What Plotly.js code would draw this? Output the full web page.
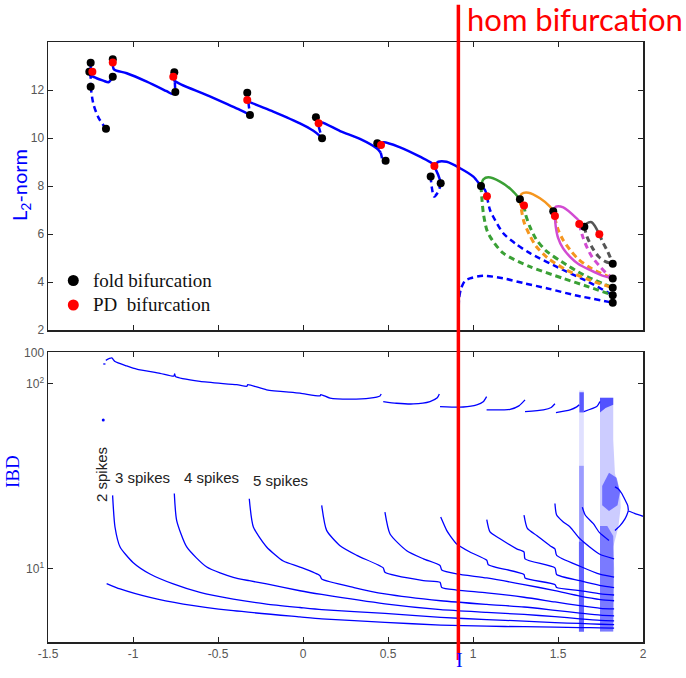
<!DOCTYPE html>
<html><head><meta charset="utf-8">
<script src="https://cdn.plot.ly/plotly-3.0.1.min.js"></script>
<style>html,body{margin:0;padding:0;background:#fff}</style>
</head><body><div id="chart" style="width:686px;height:678px"></div>
<script>
// ---------- DATA ----------
const homI = 0.914;
const xTickVals = [-1.5,-1,-0.5,0,0.5,1,1.5,2];
const xTickText = ['-1.5','-1','-0.5','0','0.5','1','1.5','2'];
const l2TickVals = [2,4,6,8,10,12];
const ibdTickVals = [10,100,147];
const ibdTickText = ['10<sup>1</sup>','10<sup>2</sup>','100'];
const ibdMinorTicks = [5,6,7,8,9,20,30,40,50,60,70,80,90,100];

// top panel: blue solid branches
const s1I=[-1.257,-1.214,-1.175,-1.145,-1.131,-1.119], s1L=[12.63,12.49,12.39,12.32,12.42,12.55];
const s2I=[-1.119,-1.112,-1.037,-0.919,-0.802,-0.767,-0.755], s2L=[13.15,12.86,12.70,12.35,11.95,11.83,11.92];
const s3I=[-0.763,-0.757,-0.566,-0.371,-0.322,-0.312], s3L=[12.55,12.39,11.79,11.17,11.0,10.96];
const s4I=[-0.328,-0.316,-0.175,-0.018,0.061,0.100,0.112], s4L=[11.58,11.51,11.10,10.61,10.30,10.08,9.99];
const s5I=[0.092,0.110,0.218,0.335,0.433,0.457], s5L=[10.61,10.65,10.29,9.96,9.57,9.39];
const s6I=[0.459,0.473,0.571,0.688,0.757,0.782,0.806,0.810], s6L=[9.71,9.82,9.61,9.22,8.95,8.67,8.25,8.11];
const s7I=[0.773,0.796,0.845,0.924,1.002,1.047,1.071,1.082], s7L=[8.83,9.01,9.01,8.74,8.39,8.0,7.83,7.57];
// top panel: blue dashed pieces
const d1I=[-1.249,-1.234,-1.204,-1.159], d1L=[12.14,11.45,10.86,10.39];
const v1I=[-1.249,-1.249], v1L=[13.14,12.14];
const v2I=[-0.757,-0.751], v2L=[12.74,11.92];
const v3I=[-0.328,-0.312], v3L=[11.89,10.96];
const v4I=[0.076,0.112], v4L=[10.86,9.99];
const d2I=[0.437,0.447,0.457,0.463,0.469,0.478,0.486], d2L=[9.78,9.55,9.39,9.22,8.99,8.98,9.05];
const d3I=[0.751,0.757,0.771,0.790,0.806,0.810], d3L=[8.40,7.97,7.56,7.70,7.97,8.11];
const b1I=[1.082,1.10,1.119,1.178,1.25,1.335,1.531,1.68,1.822], b1L=[7.57,7.0,6.72,6.03,5.6,5.2,4.5,4.0,3.45];
const b2I=[0.916,0.918,0.929,0.953,0.982,1.061,1.178,1.30,1.433,1.60,1.822], b2L=[2.97,3.3,3.72,4.05,4.15,4.26,4.15,3.95,3.74,3.45,3.14];
// green
const gSI=[1.047,1.061,1.09,1.159,1.228,1.276], gSL=[8.0,8.28,8.36,8.18,7.83,7.45];
const g1I=[1.047,1.052,1.061,1.08,1.10,1.178,1.335,1.531,1.68,1.822], g1L=[8.0,7.5,6.86,6.2,5.89,5.2,4.64,4.15,3.8,3.45];
const g2I=[1.30,1.31,1.335,1.37,1.43,1.52,1.65,1.822], g2L=[7.19,6.8,6.3,5.8,5.3,4.85,4.3,3.76];
// orange
const oSI=[1.276,1.286,1.325,1.394,1.453,1.472], oSL=[7.45,7.67,7.72,7.49,7.14,6.95];
const o1I=[1.276,1.285,1.30,1.33,1.37,1.44,1.55,1.68,1.822], o1L=[7.45,7.0,6.5,6.0,5.5,5.0,4.5,4.1,3.76];
const o2I=[1.48,1.50,1.53,1.57,1.62,1.70,1.822], o2L=[6.7,6.2,5.75,5.35,4.95,4.55,4.15];
// magenta
const mSI=[1.472,1.488,1.531,1.61,1.655], mSL=[6.95,7.14,7.11,6.65,6.30];
const m2I=[1.482,1.487,1.50,1.53,1.571,1.62,1.688,1.75,1.822], m2L=[6.75,6.3,5.85,5.4,5.05,4.75,4.5,4.3,4.15];
const mDI=[1.625,1.645,1.67,1.70,1.74,1.78,1.822], mDL=[6.42,5.9,5.45,5.05,4.7,4.4,4.15];
// dark grey
const kSI=[1.655,1.669,1.698,1.743], kSL=[6.30,6.44,6.49,5.99];
const k1I=[1.655,1.67,1.70,1.74,1.78,1.822], k1L=[6.30,5.9,5.45,5.05,4.85,4.76];
const k2I=[1.743,1.767,1.79,1.806,1.822], k2L=[5.99,5.61,5.3,5.05,4.76];
// bifurcation points
const foldI=[-1.257,-1.249,-1.249,-1.159,-1.119,-1.119,-0.757,-0.751,-0.328,-0.312,0.076,0.112,0.437,0.486,0.751,0.810,1.047,1.276,1.472,1.655,1.822,1.822,1.822,1.822,1.822];
const foldL=[12.76,13.14,12.14,10.39,13.28,12.55,12.74,11.92,11.89,10.96,10.86,9.99,9.78,9.05,8.40,8.11,8.0,7.45,6.95,6.30,4.76,4.15,3.76,3.45,3.14];
const pdI=[-1.239,-1.119,-0.763,-0.328,0.092,0.459,0.773,1.082,1.30,1.482,1.625,1.743];
const pdL=[12.76,13.15,12.55,11.58,10.61,9.71,8.83,7.57,7.19,6.75,6.42,5.99];

// bottom panel: IBD branches
const L1I=[-1.155,-1.076,-0.9,-0.704,-0.41,-0.018,0.11,0.482,0.81,1.081,1.30,1.482,1.629,1.75,1.83];
const L1V=[8.3,7.76,6.98,6.43,5.92,5.48,5.35,5.12,4.95,4.88,4.85,4.83,4.8,4.78,4.76];
const L2I=[-1.12,-1.106,-1.076,-1.0,-0.9,-0.763,-0.606,-0.41,-0.214,-0.018,0.11,0.482,0.81,1.081,1.30,1.482,1.629,1.75,1.83];
const L2V=[24.9,16.8,13.1,10.8,9.35,8.26,7.43,6.84,6.43,6.16,6.0,5.72,5.45,5.3,5.2,5.1,5.05,5.0,4.98];
const L3I=[-0.757,-0.743,-0.684,-0.566,-0.41,-0.316,-0.214,-0.018,0.11,0.482,0.81,1.081,1.30,1.482,1.629,1.75,1.83];
const L3V=[25.5,18.2,13.1,10.2,8.97,8.6,8.26,7.59,7.25,6.45,6.0,5.8,5.65,5.5,5.35,5.25,5.22];
const L4I=[-0.316,-0.292,-0.214,-0.116,-0.018,0.1,0.11,0.3,0.482,0.81,1.081,1.30,1.482,1.629,1.75,1.83];
const L4V=[23.9,16.8,13.1,11.0,10.2,9.16,8.79,7.9,7.3,6.7,6.4,6.2,5.95,5.75,5.6,5.55];
const L5I=[0.11,0.139,0.218,0.316,0.472,0.482,0.708,0.806,0.816,0.904,1.081,1.30,1.482,1.629,1.75,1.83];
const L5V=[22.0,16.1,13.3,11.8,10.1,9.55,8.61,8.43,7.91,7.66,7.4,7.0,6.6,6.3,6.1,6.05];
const L6I=[0.482,0.512,0.610,0.708,0.806,0.816,0.904,1.081,1.30,1.482,1.629,1.75,1.83];
const L6V=[20.2,15.4,12.5,11.3,10.4,9.84,9.36,8.9,8.2,7.6,7.1,6.8,6.7];
const L7I=[0.81,0.845,0.865,0.904,0.982,1.081,1.09,1.30,1.306,1.482,1.492,1.629,1.75,1.83];
const L7V=[19.0,16.1,15.1,13.6,12.3,11.1,10.5,9.3,8.9,8.2,7.9,7.6,7.3,7.2];
const L8I=[1.081,1.1,1.159,1.257,1.30,1.306,1.482,1.492,1.629,1.75,1.83];
const L8V=[18.4,15.8,14.5,12.8,12.3,11.3,10.1,9.3,8.6,8.1,7.9];
const L9I=[1.30,1.32,1.375,1.453,1.482,1.492,1.629,1.75,1.83];
const L9V=[19.5,16.5,15.1,13.3,12.8,11.8,10.3,9.3,9.0];
const L10I=[1.482,1.492,1.531,1.571,1.629,1.743,1.83];
const L10V=[22.5,19.5,17.9,16.8,14.5,12.0,11.3];
const L11I=[1.643,1.66,1.708,1.743,1.80];
const L11V=[21.5,19.5,17.5,15.7,14.2];
// long inter-burst branch (top)
const T1I=[-1.175,-1.162], T1V=[128,128];
const T2I=[-1.16,-1.125,-1.106,-1.037,-0.978,-0.841,-0.76,-0.755,-0.75,-0.606,-0.39,-0.33,-0.325,-0.214,-0.018,0.1,0.105,0.159,0.276,0.394,0.453,0.46];
const T2V=[134,138,132,125,120,114,110,113,109.5,103,98.9,97,99,92.7,89,86,87.5,83.6,82.6,83.6,86,88];
const T3I=[0.472,0.55,0.649,0.747,0.79,0.802], T3V=[80.2,78.5,77.8,80.2,84,88];
const T4I=[0.806,0.943,1.022,1.06,1.08], T4V=[75.3,74.9,76.9,80,85.3];
const T5I=[1.08,1.218,1.27,1.306], T5V=[72.3,72.8,76,81.9];
const T6I=[1.306,1.414,1.46,1.482], T6V=[70.8,72.3,74.5,78];
const T7I=[1.488,1.571,1.61,1.625], T7V=[69.9,72.3,75,77];
const T8I=[1.652,1.728,1.747], T8V=[70.8,75.3,80.2];
const strayI=[-1.175], strayV=[63.7];
// chaotic regions (outlines)
const c1aI=[1.624,1.652,1.652,1.624], c1aV=[4.6,4.6,92,92];
const c1bI=[1.626,1.652,1.652,1.626], c1bV=[70,70,90,90];
const c1cI=[1.623,1.653,1.653,1.623], c1cV=[4.55,4.55,14,14];
const c1dI=[1.624,1.652,1.652,1.624], c1dV=[14,14,36,36];
const c2aI=[1.747,1.825,1.825,1.855,1.869,1.865,1.835,1.825,1.825,1.747], c2aV=[4.6,4.6,13.1,16.8,21.5,25.5,32.7,49.6,84,84];
const c2bI=[1.747,1.825,1.825,1.78,1.747], c2bV=[84,84,77,74,70];
const c2cI=[1.76,1.80,1.85,1.865,1.845,1.80,1.76], c2cV=[22,20.5,22,26,31,33,28];
const c2dI=[1.747,1.825,1.83,1.825,1.79,1.747], c2dV=[4.55,4.55,10,15,17,17];
const bubUI=[1.835,1.855,1.875,1.895,1.91,1.914], bubUV=[27.7,27,25.5,23.5,22,20.6];
const bubLI=[1.914,1.905,1.894,1.865,1.835], bubLV=[20.6,19.5,18.6,17.1,16.1];
const tailI=[1.914,1.95,2.0], tailV=[20.5,19.9,19.2];

// ---------- TRACES ----------
const BLUE='#0000ff', GREEN='#3aa035', ORANGE='#f5961e', MAG='#d24bd2', GREY='#555555';
const DASH='6px,4px';
const traces=[];
function addTop(x,y,color,dash,w){traces.push({x:x,y:y,xaxis:'x',yaxis:'y',mode:'lines',line:{color:color,width:w||2.5,dash:dash?DASH:'solid',shape:'spline',smoothing:0.8},hoverinfo:'skip'});}
[[s1I,s1L],[s2I,s2L],[s3I,s3L],[s4I,s4L],[s5I,s5L],[s6I,s6L],[s7I,s7L]].forEach(a=>addTop(a[0],a[1],BLUE,false));
[[d1I,d1L],[v1I,v1L],[v2I,v2L],[v3I,v3L],[v4I,v4L],[d2I,d2L],[d3I,d3L],[b1I,b1L],[b2I,b2L]].forEach(a=>addTop(a[0],a[1],BLUE,true));
addTop(g1I,g1L,GREEN,true,3); addTop(g2I,g2L,GREEN,true,3);
addTop(o1I,o1L,ORANGE,true,3); addTop(o2I,o2L,ORANGE,true,3);
addTop(mDI,mDL,MAG,true,3);
addTop(k1I,k1L,GREY,true,3); addTop(k2I,k2L,GREY,true,3);
addTop(gSI,gSL,GREEN,false); addTop(oSI,oSL,ORANGE,false); addTop(mSI,mSL,MAG,false); addTop(m2I,m2L,MAG,false); addTop(kSI,kSL,GREY,false);
traces.push({x:foldI,y:foldL,xaxis:'x',yaxis:'y',mode:'markers',marker:{color:'#000',size:8},hoverinfo:'skip'});
traces.push({x:pdI,y:pdL,xaxis:'x',yaxis:'y',mode:'markers',marker:{color:'#ff0000',size:8},hoverinfo:'skip'});

function addPoly(x,y,op){traces.push({x:x,y:y,xaxis:'x2',yaxis:'y2',mode:'lines',fill:'toself',fillcolor:'rgba(0,0,255,'+op+')',line:{width:0,color:'rgba(0,0,255,0)'},hoverinfo:'skip'});}
addPoly(c1aI,c1aV,0.12); addPoly(c1dI,c1dV,0.3); addPoly(c1bI,c1bV,0.6); addPoly(c1cI,c1cV,0.55);
addPoly(c2aI,c2aV,0.2); addPoly(c2bI,c2bV,0.6); addPoly(c2cI,c2cV,0.45); addPoly(c2dI,c2dV,0.4);
function addBot(x,y){traces.push({x:x,y:y,xaxis:'x2',yaxis:'y2',mode:'lines',line:{color:BLUE,width:1.3,shape:'spline',smoothing:0.6},hoverinfo:'skip'});}
[[L1I,L1V],[L2I,L2V],[L3I,L3V],[L4I,L4V],[L5I,L5V],[L6I,L6V],[L7I,L7V],[L8I,L8V],[L9I,L9V],[L10I,L10V],[L11I,L11V],
 [T1I,T1V],[T2I,T2V],[T3I,T3V],[T4I,T4V],[T5I,T5V],[T6I,T6V],[T7I,T7V],[T8I,T8V],[bubUI,bubUV],[bubLI,bubLV],[tailI,tailV]].forEach(a=>addBot(a[0],a[1]));
traces.push({x:strayI,y:strayV,xaxis:'x2',yaxis:'y2',mode:'markers',marker:{color:BLUE,size:3},hoverinfo:'skip'});

// ---------- LAYOUT ----------
const tickFont={family:'Liberation Sans, Arial, sans-serif',size:12,color:'#555'};
const axBase={showgrid:false,zeroline:false,showline:true,linecolor:'#222',linewidth:1.5,ticks:'inside',ticklen:5,tickcolor:'#222',mirror:'ticks',tickfont:tickFont};
const layout={
  width:686,height:678,margin:{l:48,r:43,t:42,b:36},paper_bgcolor:'#fff',plot_bgcolor:'#fff',showlegend:false,
  xaxis:Object.assign({},axBase,{domain:[0,1],range:[-1.5,2],anchor:'y',tickvals:xTickVals,showticklabels:false}),
  yaxis:Object.assign({},axBase,{domain:[0.52,1],range:[2,14],anchor:'x',tickvals:l2TickVals}),
  xaxis2:Object.assign({},axBase,{domain:[0,1],range:[-1.5,2],anchor:'y2',tickvals:xTickVals,ticktext:xTickText}),
  yaxis2:Object.assign({},axBase,{domain:[0,0.4833],type:'log',range:[0.603,2.172],anchor:'x2',tickvals:ibdTickVals,ticktext:ibdTickText}),
  yaxis3:{overlaying:'y2',side:'right',anchor:'x2',type:'log',range:[0.603,2.172],tickvals:ibdMinorTicks,ticks:'inside',ticklen:5,tickcolor:'#222',showticklabels:false,showline:false,showgrid:false,zeroline:false},
  shapes:[
    {type:'line',xref:'x',yref:'paper',x0:homI,x1:homI,y0:-0.03,y1:1.062,line:{color:'#ff0000',width:3.5}},
    {type:'circle',xref:'paper',yref:'paper',x0:(67.8-48)/595,x1:(78.8-48)/595,y0:(642-286)/600,y1:(642-275)/600,fillcolor:'#000',line:{width:0}},
    {type:'circle',xref:'paper',yref:'paper',x0:(67.8-48)/595,x1:(78.8-48)/595,y0:(642-310.5)/600,y1:(642-299.5)/600,fillcolor:'#ff0000',line:{width:0}}
  ],
  annotations:[
    {text:'hom bifurcation',xref:'paper',yref:'paper',x:(465-48)/595,y:(642-19)/600,xanchor:'left',yanchor:'middle',showarrow:false,font:{family:'Lato, Open Sans, sans-serif',size:31,color:'#ff0000'}},
    {text:'L<sub>2</sub>-norm',xref:'paper',yref:'paper',x:(21-48)/595,y:(642-185)/600,textangle:-90,showarrow:false,xanchor:'center',yanchor:'middle',font:{family:'Lato, Open Sans, sans-serif',size:20,color:BLUE}},
    {text:'IBD',xref:'paper',yref:'paper',x:(12-48)/595,y:(642-472)/600,textangle:-90,showarrow:false,xanchor:'center',yanchor:'middle',font:{family:'Liberation Serif, Times New Roman, serif',size:19,color:BLUE}},
    {text:'I',xref:'paper',yref:'paper',x:(459-48)/595,y:(642-660)/600,showarrow:false,xanchor:'center',yanchor:'middle',font:{family:'Liberation Serif, Times New Roman, serif',size:20,color:BLUE}},
    {text:'fold bifurcation',xref:'paper',yref:'paper',x:(91-48)/595,y:(642-280.7)/600,xanchor:'left',yanchor:'middle',showarrow:false,font:{family:'Liberation Serif, Times New Roman, serif',size:19,color:'#111'}},
    {text:'PD\u00a0 bifurcation',xref:'paper',yref:'paper',x:(91-48)/595,y:(642-304)/600,xanchor:'left',yanchor:'middle',showarrow:false,font:{family:'Liberation Serif, Times New Roman, serif',size:19,color:'#111'}},
    {text:'2 spikes',xref:'paper',yref:'paper',x:(101-48)/595,y:(642-475)/600,textangle:-90,xanchor:'center',yanchor:'middle',showarrow:false,font:{family:'Liberation Sans, Arial, sans-serif',size:15,color:'#222'}},
    {text:'3 spikes',xref:'paper',yref:'paper',x:(142.5-48)/595,y:(642-477)/600,xanchor:'center',yanchor:'middle',showarrow:false,font:{family:'Liberation Sans, Arial, sans-serif',size:15,color:'#222'}},
    {text:'4 spikes',xref:'paper',yref:'paper',x:(211.7-48)/595,y:(642-477)/600,xanchor:'center',yanchor:'middle',showarrow:false,font:{family:'Liberation Sans, Arial, sans-serif',size:15,color:'#222'}},
    {text:'5 spikes',xref:'paper',yref:'paper',x:(280.5-48)/595,y:(642-480)/600,xanchor:'center',yanchor:'middle',showarrow:false,font:{family:'Liberation Sans, Arial, sans-serif',size:15,color:'#222'}}
  ]
};
Plotly.newPlot('chart',traces,layout,{staticPlot:true,displayModeBar:false});
</script></body></html>
